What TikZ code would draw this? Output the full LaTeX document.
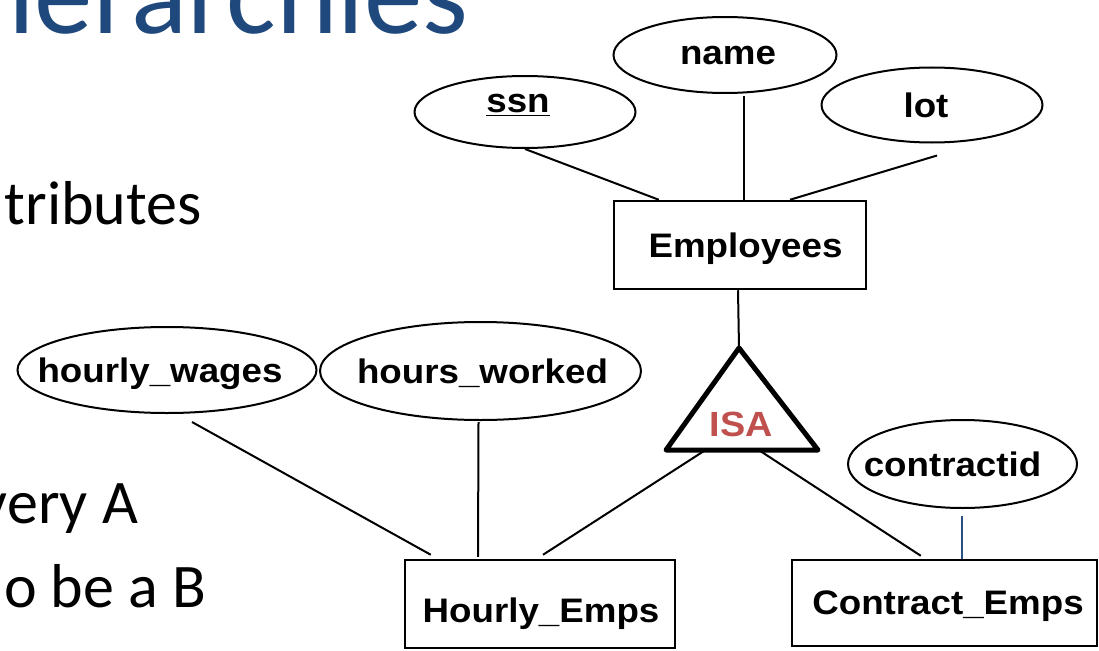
\documentclass[tikz,border=0pt]{standalone}
\usepackage{fontspec}
\usetikzlibrary{shapes.geometric,calc}
\newfontfamily\slidefont{Carlito}
\newfontfamily\erfont[FakeStretch=1.08]{Liberation Sans}
\definecolor{titleblue}{RGB}{31,73,125}
\definecolor{isared}{RGB}{192,80,77}
\definecolor{linkblue}{RGB}{40,80,130}
% zero-width label box, moved sideways by half of #1
\newcommand\ershift[2]{\makebox[0pt]{\hspace*{#1}#2}}

\begin{document}
\begin{tikzpicture}[x=1pt,y=-1pt,
  attr/.style={ellipse,draw,line width=2pt,inner sep=0pt,text depth=0pt,
    font=\erfont\bfseries\fontsize{34}{36}\selectfont},
  entity/.style={rectangle,draw,line width=2.5pt,inner sep=0pt,text depth=0pt,
    font=\erfont\bfseries\fontsize{34}{36}\selectfont},
  link/.style={line width=2pt},
  bodytext/.style={anchor=base east,inner sep=0pt,
    font=\slidefont\fontsize{62}{70}\selectfont}]
\useasboundingbox (0,0) rectangle (1099,650);
\clip (0,0) rectangle (1099,650);

% slide text around the diagram
\node[anchor=base west,inner sep=0pt,text=titleblue,
  font=\slidefont\fontsize{117}{120}\selectfont] (title) at (8,34) {ierarchies};
\node[bodytext] (b1) at (202,224) {tributes};
\node[bodytext] (b2) at (138,523) {very A};
\node[bodytext] (b3) at (206,607) {o be a B};

% Employees entity and its attributes
\node[entity,minimum width=252pt,minimum height=88pt] (emp) at (740,245) {\ershift{11pt}{Employees}};
\node[attr,minimum width=221pt,minimum height=72pt,text height=2pt] (ssn) at (525,112) {\ershift{-14pt}{\underline{ssn}}};
\node[attr,minimum width=223pt,minimum height=76pt] (name) at (725,55) {\ershift{6pt}{name}};
\node[attr,minimum width=221pt,minimum height=75pt] (lot) at (932,105) {\ershift{-12pt}{lot}};

\draw[link] (ssn.south) -- ($(emp.north west)+(46,0)$);
\draw[link] ($(name.south)+(19,2)$) -- ($(emp.north)+(4,0)$);
\draw[link] ($(lot.south)+(5,12)$) -- ($(emp.north)+(50,0)$);

% ISA triangle
\coordinate (isatop) at (739,348);
\coordinate (isaleft) at (666,450);
\coordinate (isaright) at (818,450);
\draw[link] ($(emp.south)+(-2,0)$) -- (isatop);
\draw[line width=5pt,line join=round] (isatop) -- (isaleft) -- (isaright) -- cycle;
\node[inner sep=0pt,text=isared,font=\erfont\bfseries\fontsize{35}{38}\selectfont]
  (isa) at (741,424) {ISA};

% subclasses
\node[entity,minimum width=270pt,minimum height=88pt,text height=36pt] (hourly) at (540,604) {\ershift{2pt}{Hourly\_Emps}};
\node[entity,minimum width=305pt,minimum height=86pt] (contract) at (944.5,603) {\ershift{7pt}{Contract\_Emps}};
\node[attr,minimum width=299pt,minimum height=86pt] (hw) at (167,370) {\ershift{-14pt}{hourly\_wages}};
\node[attr,minimum width=321pt,minimum height=98pt] (hrs) at (480.5,371) {\ershift{4pt}{hours\_worked}};
\node[attr,minimum width=229pt,minimum height=88pt] (cid) at (962.5,464) {\ershift{-20pt}{contractid}};

\draw[link] ($(hw.south)+(25,8)$) -- ($(hourly.north west)+(27,-4)$);
\draw[link] ($(hrs.south)+(-2,1)$) -- ($(hourly.north)+(-62,-2)$);
\draw[link] ($(isaleft)!0.26!(isaright)$) -- ($(hourly.north)+(3,-4)$);
\draw[link] ($(isaleft)!0.61!(isaright)$) -- ($(contract.north west)+(130,-3)$);
\draw[link,linkblue] ($(cid.south)+(-1,7)$) -- ($(cid.south |- contract.north)+(-1,0)$);
\end{tikzpicture}
\end{document}
